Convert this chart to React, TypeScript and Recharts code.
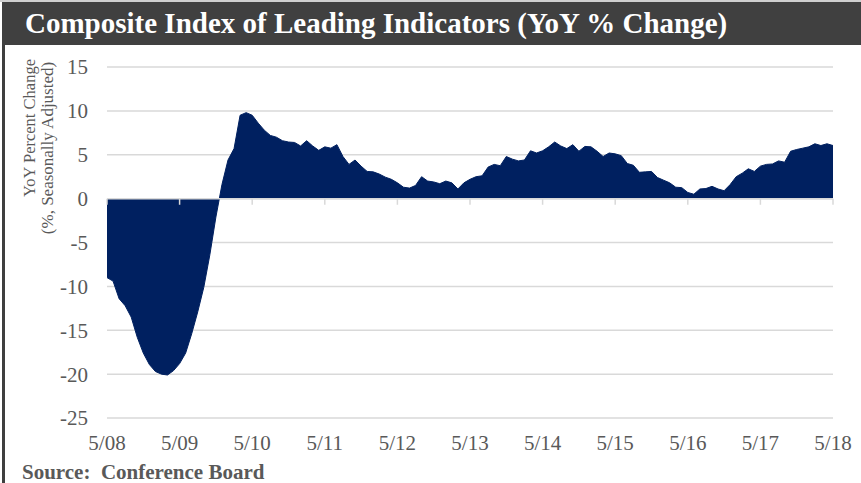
import React from 'react';
import { AreaChart, Area, XAxis, YAxis, CartesianGrid, ReferenceLine } from 'recharts';

const values: number[] = [
  -9.0, -9.4, -11.4, -12.2, -13.5, -15.8, -17.6, -18.9, -19.7, -20.0,
  -20.1, -19.6, -18.8, -17.6, -15.4, -12.9, -10.1, -6.4, -2.1, 1.6,
  4.4, 5.7, 9.5, 9.8, 9.5, 8.6, 7.8, 7.2, 7.0, 6.6,
  6.45, 6.4, 6.0, 6.6, 6.0, 5.5, 5.9, 5.75, 6.15, 4.8,
  3.9, 4.4, 3.7, 3.1, 3.05, 2.8, 2.45, 2.2, 1.8, 1.3,
  1.2, 1.5, 2.5, 2.0, 1.9, 1.7, 2.0, 1.8, 1.1, 1.8,
  2.2, 2.5, 2.6, 3.6, 3.9, 3.75, 4.8, 4.5, 4.3, 4.4,
  5.45, 5.2, 5.45, 5.9, 6.45, 6.0, 5.7, 6.15, 5.4, 5.95,
  5.9, 5.4, 4.8, 5.2, 5.1, 4.9, 4.0, 3.8, 3.0, 3.05,
  3.1, 2.4, 2.1, 1.8, 1.3, 1.25, 0.7, 0.5, 1.1, 1.15,
  1.4, 1.1, 0.9, 1.6, 2.5, 2.9, 3.4, 3.1, 3.7, 3.9,
  3.95, 4.3, 4.15, 5.4, 5.6, 5.75, 5.9, 6.25, 6.05, 6.25,
  6.05,
];

const xTickPositions: number[] = [0, 12, 24, 36, 48, 60, 72, 84, 96, 108, 120];
const xTickLabels: string[] = ['5/08', '5/09', '5/10', '5/11', '5/12', '5/13', '5/14', '5/15', '5/16', '5/17', '5/18'];
const yTicks: number[] = [-25, -20, -15, -10, -5, 0, 5, 10, 15];

const data = values.map((v, i) => ({ i, v }));

const FONT = "'Liberation Serif', 'DejaVu Serif', serif";
const TEXT_GRAY = '#595959';
const NAVY = '#002060';
const GRID = '#d9d9d9';

export default function App() {
  return (
    <div style={{ position: 'absolute', left: 0, top: 0, width: 861, height: 483, background: '#fff', overflow: 'hidden', fontFamily: FONT }}>
      <div style={{ position: 'absolute', left: 0, top: 0, width: 861, height: 2, background: '#cfcfcf' }} />
      <div style={{ position: 'absolute', left: 2, top: 45, width: 3, height: 438, background: '#3f3f3f', zIndex: 2 }} />
      <div style={{ position: 'absolute', left: 0, top: 0 }}>
        <AreaChart width={861} height={483} data={data} margin={{ top: 67, right: 28, bottom: 25, left: 47 }}>
          <CartesianGrid horizontal={true} vertical={false} stroke={GRID} strokeWidth={1.5} />
          <XAxis
            dataKey="i"
            type="number"
            domain={[0, 120]}
            ticks={xTickPositions}
            tickFormatter={(v: number) => xTickLabels[xTickPositions.indexOf(v)] ?? ''}
            axisLine={false}
            tickLine={false}
            tickSize={0}
            tickMargin={17}
            height={40}
            tick={{ fontSize: 21, fill: TEXT_GRAY, fontFamily: FONT }}
            interval={0}
          />
          <YAxis
            type="number"
            domain={[-25, 15]}
            ticks={yTicks}
            axisLine={false}
            tickLine={false}
            tickSize={0}
            tickMargin={19}
            width={60}
            tick={{ fontSize: 21, fill: TEXT_GRAY, fontFamily: FONT }}
            interval={0}
          />
          <Area
            type="linear"
            dataKey="v"
            stroke={NAVY}
            strokeWidth={1}
            fill={NAVY}
            fillOpacity={1}
            baseValue={0}
            isAnimationActive={false}
            dot={false}
            activeDot={false}
          />
          <ReferenceLine y={0} stroke={GRID} strokeWidth={1.5} />
          {xTickPositions.map((p) => (
            <ReferenceLine
              key={p}
              segment={[{ x: p, y: 0 }, { x: p, y: -0.7 }]}
              stroke={GRID}
              strokeWidth={1.5}
            />
          ))}
        </AreaChart>
      </div>
      <svg style={{ position: 'absolute', left: 0, top: 0 }} width={861} height={483}>
        <text x={29} y={128} transform="rotate(-90 29 128)" textAnchor="middle" dominantBaseline="central" fontSize={16.5} fill={TEXT_GRAY} fontFamily={FONT}>
          YoY Percent Change
        </text>
        <text x={47} y={148} transform="rotate(-90 47 148)" textAnchor="middle" dominantBaseline="central" fontSize={17} fill={TEXT_GRAY} fontFamily={FONT}>
          (%, Seasonally Adjusted)
        </text>
        <text x={22} y={479} fontSize={21} fontWeight="bold" fill={TEXT_GRAY} fontFamily={FONT}>
          Source:{'\u00a0\u00a0'}Conference Board
        </text>
      </svg>
      <div style={{ position: 'absolute', left: 2, top: 2, width: 859, height: 43, background: '#404040', zIndex: 3 }}>
        <div style={{ position: 'absolute', left: 23, top: 0, height: 43, lineHeight: '43px', color: '#fff', fontSize: 29, fontWeight: 'bold', fontFamily: FONT, whiteSpace: 'nowrap' }}>
          Composite Index of Leading Indicators (YoY % Change)
        </div>
      </div>
    </div>
  );
}
